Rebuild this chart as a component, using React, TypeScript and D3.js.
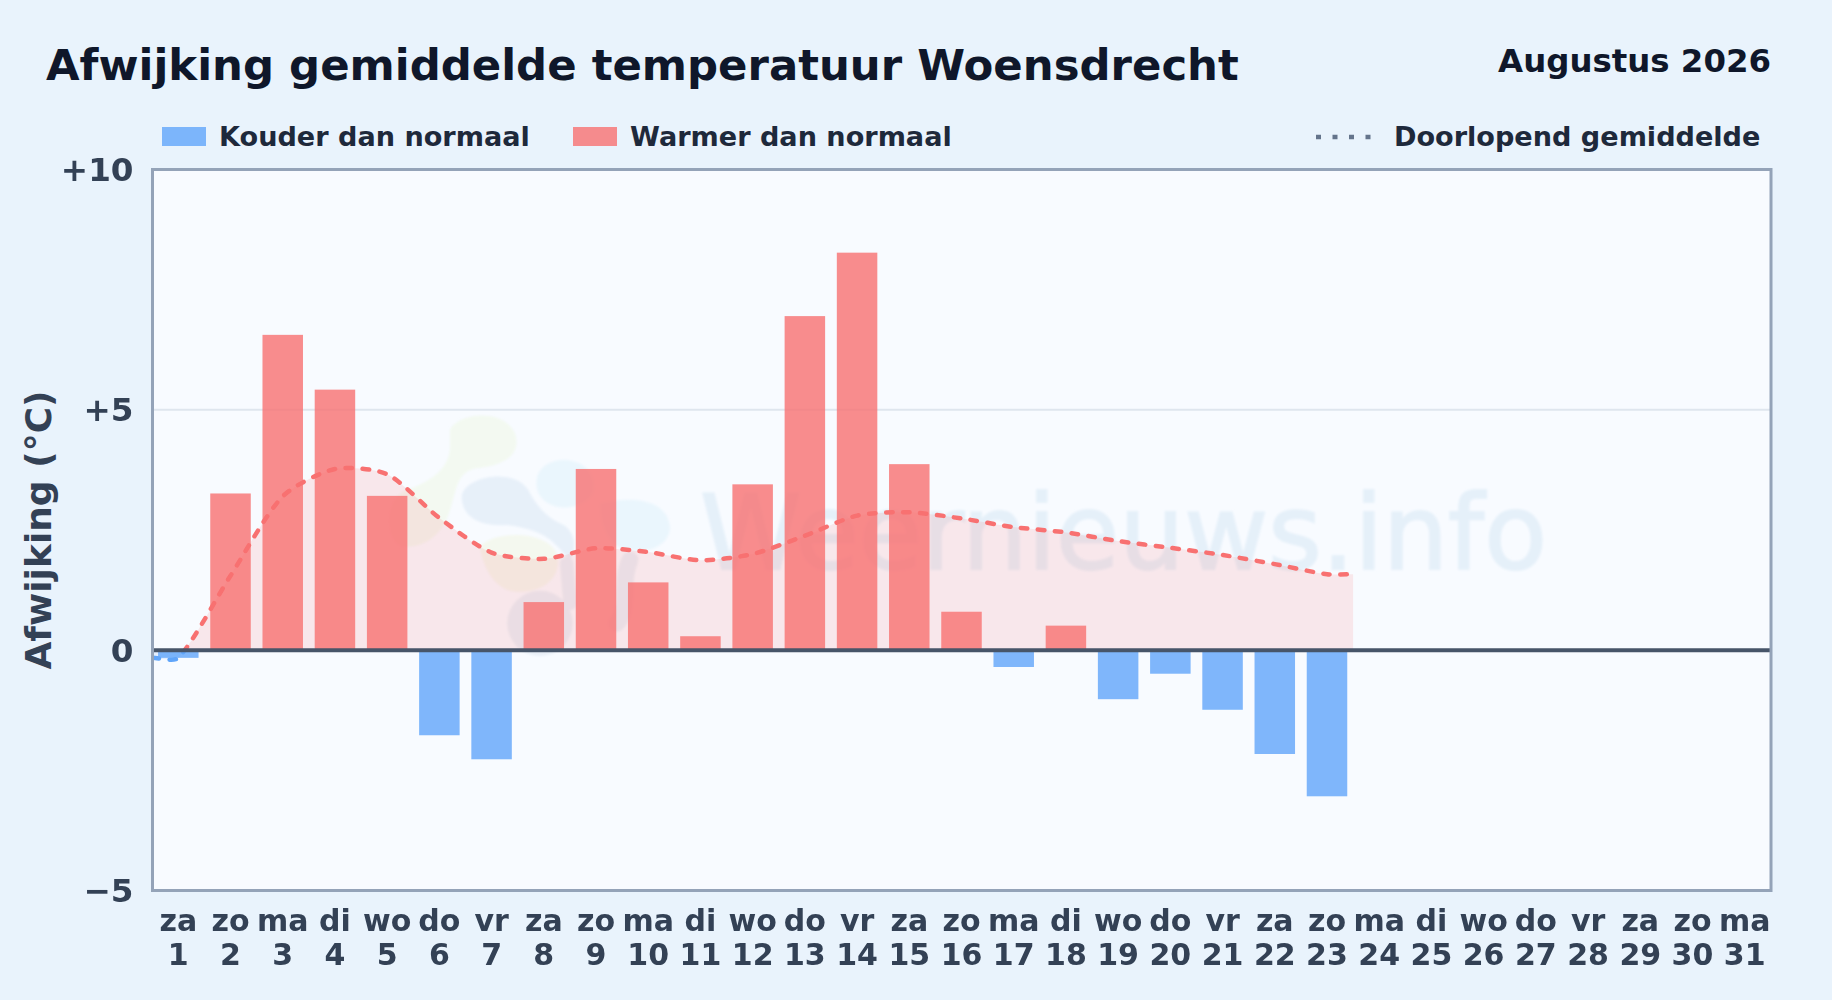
import React from "react";
import * as d3 from "d3";

const W = 1832, H = 1000;
const weekdays = ["za","zo","ma","di","wo","do","vr","za","zo","ma","di","wo","do","vr","za","zo","ma","di","wo","do","vr","za","zo","ma","di","wo","do","vr","za","zo","ma"];
const days = d3.range(1, 32);
const anomalies = [-0.16,3.26,6.56,5.42,3.21,-1.77,-2.27,1.0,3.77,1.41,0.29,3.45,6.95,8.27,3.87,0.8,-0.35,0.51,-1.02,-0.49,-1.24,-2.16,-3.04];
const runningMean = [-0.16,1.55,3.2,3.77,3.66,2.75,2.03,1.9,2.12,2.04,1.87,2.0,2.38,2.8,2.87,2.74,2.56,2.45,2.27,2.13,1.98,1.79,1.58];
const yTicks = [10, 5, 0, -5];
const yLabels = ["+10", "+5", "0", "\u22125"];

const FONT = "'DejaVu Sans', sans-serif";
const plot = { l: 152.5, r: 1771, t: 169.5, b: 890.5 };
const x = d3.scalePoint<number>().domain(days).range([178.3, 1744.7]);
const y = d3.scaleLinear().domain([-5, 10]).range([plot.b, plot.t]);
const halfStep = x.step() / 2;
const barW = 40.5;

type P = [number, number];
const linePts: P[] = [
  [plot.l, y(runningMean[0])],
  ...runningMean.map((v, i) => [x(days[i])!, y(v)] as P),
  [x(days[runningMean.length - 1])! + halfStep, y(runningMean[runningMean.length - 1])],
];

// Tension spline through the pixel points, with control points scaled by neighbouring distances.
function spline(pts: P[], t = 0.25) {
  const p = d3.path();
  const ctl = pts.map((cur, i) => {
    const prev = pts[Math.max(0, i - 1)], next = pts[Math.min(pts.length - 1, i + 1)];
    const d01 = Math.hypot(cur[0] - prev[0], cur[1] - prev[1]);
    const d12 = Math.hypot(next[0] - cur[0], next[1] - cur[1]);
    const sum = d01 + d12 || 1;
    const fa = t * d01 / sum, fb = t * d12 / sum;
    return {
      a: [cur[0] - fa * (next[0] - prev[0]), cur[1] - fa * (next[1] - prev[1])] as P,
      b: [cur[0] + fb * (next[0] - prev[0]), cur[1] + fb * (next[1] - prev[1])] as P,
    };
  });
  p.moveTo(pts[0][0], pts[0][1]);
  for (let i = 1; i < pts.length; i++) {
    p.bezierCurveTo(ctl[i - 1].b[0], ctl[i - 1].b[1], ctl[i].a[0], ctl[i].a[1], pts[i][0], pts[i][1]);
  }
  return p.toString();
}
const lineD = spline(linePts);
const areaD = `${lineD}L${linePts[linePts.length - 1][0]},${y(0)}L${linePts[0][0]},${y(0)}Z`;

export default function App() {
  return (
    <svg width={W} height={H} viewBox={`0 0 ${W} ${H}`} style={{ position: "absolute", left: 0, top: 0, fontFamily: FONT }}>
      <defs>
        <clipPath id="above"><rect x={plot.l} y={plot.t} width={plot.r - plot.l} height={y(0) - plot.t} /></clipPath>
        <clipPath id="below"><rect x={plot.l} y={y(0)} width={plot.r - plot.l} height={plot.b - y(0)} /></clipPath>
        <filter id="soft" x="-10%" y="-10%" width="120%" height="120%"><feGaussianBlur stdDeviation="1.2" /></filter>
      </defs>
      <rect width={W} height={H} fill="#e9f3fc" />
      <text x={46} y={79.5} fontSize={43.4} fontWeight={700} fill="#0f172a">Afwijking gemiddelde temperatuur Woensdrecht</text>
      <text x={1771} y={72} fontSize={32.4} fontWeight={700} fill="#0f172a" textAnchor="end">Augustus 2026</text>

      <rect x={162} y={127} width={44} height={19} fill="#60a5fa" fillOpacity={0.8} />
      <text x={219} y={146} fontSize={27.1} fontWeight={700} fill="#1e293b">Kouder dan normaal</text>
      <rect x={573} y={127} width={44} height={19} fill="#f87171" fillOpacity={0.8} />
      <text x={630} y={146} fontSize={27.1} fontWeight={700} fill="#1e293b">Warmer dan normaal</text>
      <line x1={1316} x2={1372} y1={137} y2={137} stroke="#64748b" strokeWidth={4.5} strokeDasharray="5 11.5" />
      <text x={1394} y={146} fontSize={27.1} fontWeight={700} fill="#1e293b">Doorlopend gemiddelde</text>

      <rect x={plot.l} y={plot.t} width={plot.r - plot.l} height={plot.b - plot.t} fill="#f8fbff" />

      <g filter="url(#soft)">
        <g transform="translate(400,390) scale(0.3333)" fill="none" strokeLinecap="round" strokeLinejoin="round">
          <path d="M150,120 C170,70 310,50 345,130 C365,190 320,225 230,235 C170,245 170,300 150,360 C130,430 80,470 20,470 C-40,480 -60,330 20,300 C80,280 150,240 150,170 Z" fill="#f3f9f1" />
          <path d="M185,320 C190,260 340,230 385,300 C410,350 440,380 480,400 C530,420 530,480 510,510 C470,470 450,420 320,405 C240,410 185,380 185,320 Z" fill="#e7f0f9" />
          <path d="M240,470 C280,420 440,420 470,490 C490,560 430,610 350,605 C280,600 250,530 240,470 Z" fill="#f4f8ef" />
          <path d="M410,270 C420,190 560,190 580,270 C600,340 510,360 470,350 C430,340 405,310 410,270 Z" fill="#eaf6fd" />
          <path d="M600,340 C680,320 800,320 810,410 C810,470 740,490 690,480 C650,480 600,440 600,340 Z" fill="#eaf6fd" />
          <circle cx={420} cy={700} r={98} fill="#e8eff7" />
          <path d="M500,520 L510,640" stroke="#e8eff7" strokeWidth={40} />
          <path d="M690,510 C660,570 690,660 650,700" stroke="#e8eff7" strokeWidth={50} />
        </g>
        <text x={700} y={569} fontSize={104} textLength={847} lengthAdjust="spacingAndGlyphs" fill="#e5f0f9" stroke="#e5f0f9" strokeWidth={2}>Weernieuws.info</text>
      </g>

      <line x1={plot.l} x2={plot.r} y1={y(5)} y2={y(5)} stroke="#dfe6ee" strokeWidth={2} />

      <path d={areaD} fill="#f87171" fillOpacity={0.14} clipPath="url(#above)" />
      <path d={areaD} fill="#60a5fa" fillOpacity={0.14} clipPath="url(#below)" />

      {anomalies.map((v, i) => (
        <rect key={i} x={x(days[i])! - barW / 2} width={barW}
          y={Math.min(y(v), y(0))} height={Math.abs(y(v) - y(0))}
          fill={v >= 0 ? "#f87171" : "#60a5fa"} fillOpacity={0.8} />
      ))}

      <path d={lineD} fill="none" stroke="#f87171" strokeWidth={4.5} strokeDasharray="6.5 10.5" strokeLinecap="round" clipPath="url(#above)" />
      <path d={lineD} fill="none" stroke="#60a5fa" strokeWidth={4.5} strokeDasharray="6.5 10.5" strokeLinecap="round" clipPath="url(#below)" />

      <line x1={plot.l} x2={plot.r} y1={y(0)} y2={y(0)} stroke="#475569" strokeWidth={4} />
      <rect x={plot.l} y={plot.t} width={plot.r - plot.l} height={plot.b - plot.t} fill="none" stroke="#94a3b8" strokeWidth={3} />

      {yTicks.map((t, i) => (
        <text key={t} x={133.5} y={y(t) + 11.5} fontSize={32.6} fontWeight={700} fill="#334155" textAnchor="end">{yLabels[i]}</text>
      ))}
      <text transform="translate(51,530) rotate(-90)" fontSize={36} fontWeight={700} fill="#334155" textAnchor="middle">Afwijking (°C)</text>

      {days.map((d, i) => (
        <g key={d} fontSize={30} fontWeight={700} fill="#334155" textAnchor="middle">
          <text x={x(d)} y={931}>{weekdays[i]}</text>
          <text x={x(d)} y={965}>{d}</text>
        </g>
      ))}
    </svg>
  );
}
